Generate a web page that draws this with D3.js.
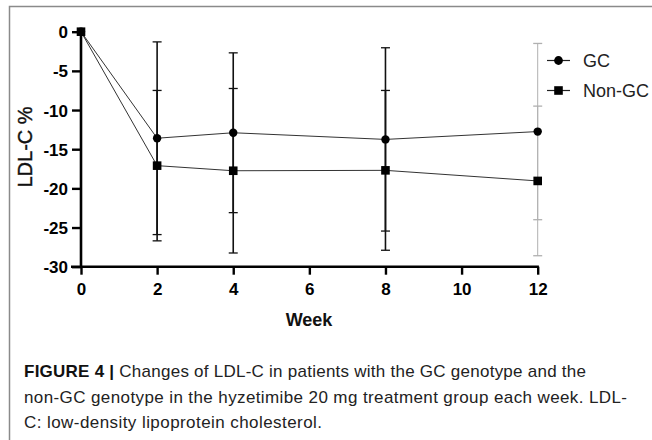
<!DOCTYPE html>
<html>
<head>
<meta charset="utf-8">
<script src="https://cdn.jsdelivr.net/npm/d3@7"></script>
<style>
  body { margin: 0; background: #fff; }
  svg { display: block; font-family: "Liberation Sans", Arial, sans-serif; }
</style>
</head>
<body>
<svg width="652" height="440"></svg>
<script>
const weeks = [0, 2, 4, 8, 12];
const gcMean = [0, -13.6, -12.9, -13.75, -12.75];
const gcSD = [0, 12.3, 10.2, 11.7, 11.25];
const nonGcMean = [0, -17.1, -17.75, -17.7, -19.05];
const nonGcSD = [0, 9.6, 10.5, 10.2, 9.55];
const xTicks = [0, 2, 4, 6, 8, 10, 12];
const yTicks = [0, -5, -10, -15, -20, -25, -30];
const captionLines = [
  "Changes of LDL-C in patients with the GC genotype and the",
  "non-GC genotype in the hyzetimibe 20 mg treatment group each week. LDL-",
  "C: low-density lipoprotein cholesterol."
];

const svg = d3.select("svg");

// outer frame
svg.append("rect")
    .attr("x", 9.5).attr("y", 6.5)
    .attr("width", 700).attr("height", 500)
    .attr("fill", "none").attr("stroke", "#8a8a8a").attr("stroke-width", 1.5);

const x = d3.scaleLinear().domain([0, 12]).range([81, 537.7]);
const y = d3.scaleLinear().domain([-30, 0]).range([266.7, 31.7]);

const series = [
  {name: "GC", mean: gcMean, sd: gcSD, shape: "circle"},
  {name: "Non-GC", mean: nonGcMean, sd: nonGcSD, shape: "square"}
];

// error bars
series.forEach(s => {
  const g = svg.append("g");
  weeks.forEach((w, i) => {
    if (s.sd[i] === 0) return;
    const col = w === 12 ? "#b0b0b0" : "#111";
    const sw = w === 12 ? 1 : 1.6;
    const lo = s.mean[i] - s.sd[i], hi = s.mean[i] + s.sd[i];
    g.append("line").attr("x1", x(w)).attr("x2", x(w))
      .attr("y1", y(hi)).attr("y2", y(lo))
      .attr("stroke", col).attr("stroke-width", sw);
    [hi, lo].forEach(v => {
      g.append("line").attr("x1", x(w) - 4.5).attr("x2", x(w) + 4.5)
        .attr("y1", y(v)).attr("y2", y(v))
        .attr("stroke", col).attr("stroke-width", 1.3);
    });
  });
});

// lines
const line = d3.line().x(d => x(d[0])).y(d => y(d[1]));
series.forEach(s => {
  svg.append("path")
    .datum(weeks.map((w, i) => [w, s.mean[i]]))
    .attr("d", line)
    .attr("fill", "none").attr("stroke", "#333").attr("stroke-width", 1);
});

// axes
const yAxis = d3.axisLeft(y).tickValues(yTicks).tickSize(9).tickSizeOuter(0).tickFormat(d => String(d));
const xAxis = d3.axisBottom(x).tickValues(xTicks).tickSize(8).tickSizeOuter(0);

const gy = svg.append("g").attr("transform", "translate(81,0)").call(yAxis);
const gx = svg.append("g").attr("transform", "translate(0,266.7)").call(xAxis);
[gx, gy].forEach(g => {
  g.select(".domain").attr("stroke", "#000").attr("stroke-width", 2.6);
  g.selectAll(".tick line").attr("stroke", "#000").attr("stroke-width", 2.4);
  g.selectAll(".tick text")
    .attr("fill", "#000")
    .style("font-family", "'Liberation Sans', Arial, sans-serif")
    .style("font-size", "17px").style("font-weight", "bold");
});
gy.select(".domain").attr("d", `M0,${y(-30) + 1.3}V${y(0)}`);
gx.select(".domain").attr("d", `M${x(0) - 10},0H${x(12) + 1.2}`);
gy.selectAll(".tick text").attr("x", -13).attr("dy", "0.36em");
gx.selectAll(".tick text").attr("y", 16);

// markers
function drawMarker(g, shape, cx, cy, r) {
  if (shape === "circle") {
    g.append("circle").attr("cx", cx).attr("cy", cy).attr("r", r).attr("fill", "#000");
  } else {
    g.append("rect").attr("x", cx - r).attr("y", cy - r)
      .attr("width", 2 * r).attr("height", 2 * r).attr("fill", "#000");
  }
}
series.forEach(s => {
  const g = svg.append("g");
  weeks.forEach((w, i) => drawMarker(g, s.shape, x(w), y(s.mean[i]), s.shape === "circle" ? 4.2 : 4.3));
});

// axis titles
svg.append("text")
    .attr("transform", "translate(32,147) rotate(-90)")
    .attr("text-anchor", "middle")
    .style("font-size", "20px").attr("fill", "#111")
    .attr("stroke", "#111").attr("stroke-width", 0.4)
    .text("LDL-C %");
svg.append("text")
    .attr("x", 309).attr("y", 326)
    .attr("text-anchor", "middle")
    .style("font-size", "18px").style("font-weight", "bold").attr("fill", "#111")
    .text("Week");

// legend
const legend = svg.append("g");
series.forEach((s, i) => {
  const ly = 60.5 + i * 30;
  legend.append("line").attr("x1", 547).attr("x2", 570).attr("y1", ly).attr("y2", ly)
    .attr("stroke", "#222").attr("stroke-width", 1.2);
  drawMarker(legend, s.shape, 558.5, ly, s.shape === "circle" ? 4.4 : 4.3);
  legend.append("text").attr("x", 583).attr("y", ly + 6.5)
    .style("font-size", "18px").attr("fill", "#222").text(s.name);
});

// caption
const cap = svg.append("g").style("font-size", "17px").attr("fill", "#222");
const c1 = cap.append("text").attr("x", 24).attr("y", 377)
    .attr("textLength", 562).attr("lengthAdjust", "spacing");
c1.append("tspan").style("font-weight", "bold").attr("fill", "#111").text("FIGURE 4 |");
c1.append("tspan").text(" " + captionLines[0]);
cap.append("text").attr("x", 24).attr("y", 403)
    .attr("textLength", 603).attr("lengthAdjust", "spacing").text(captionLines[1]);
cap.append("text").attr("x", 24).attr("y", 428)
    .attr("textLength", 298).attr("lengthAdjust", "spacing").text(captionLines[2]);
</script>
</body>
</html>
